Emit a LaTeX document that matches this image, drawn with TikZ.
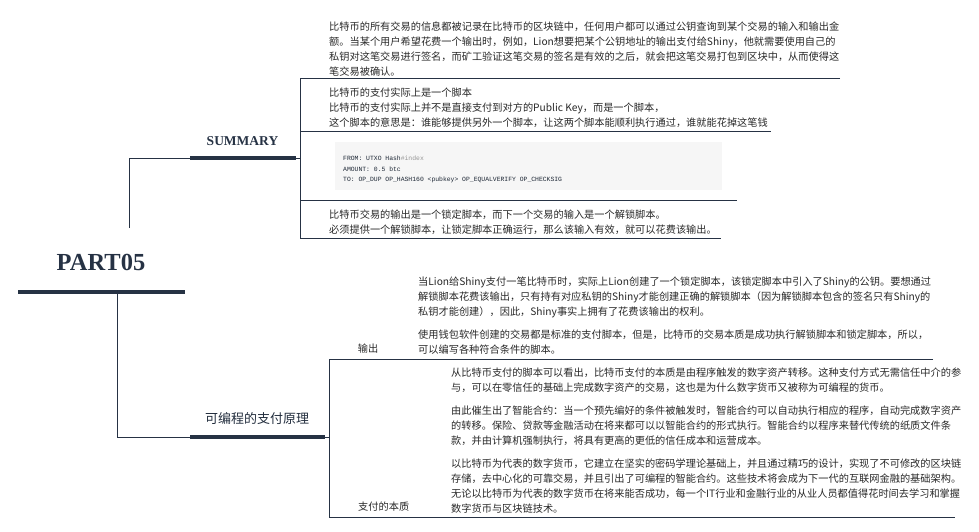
\documentclass[tikz,border=0pt]{standalone}
\usepackage{fontspec}
\newfontfamily\cjk{Noto Sans CJK SC}
\newfontfamily\serif{Liberation Serif}
\newfontfamily\mono{Liberation Mono}
\definecolor{navy}{RGB}{38,50,68}
\definecolor{bodytext}{RGB}{40,40,40}
\definecolor{codebg}{RGB}{246,246,246}
\definecolor{codegrey}{RGB}{150,150,150}
\begin{document}
\begin{tikzpicture}[x=1pt,y=-1pt,
  conn/.style={draw=navy, line width=1pt},
  bar/.style={draw=navy, line width=4.3pt},
  note/.style={inner sep=0, align=left, anchor=base west, text=bodytext, font=\cjk\fontsize{10.2}{15}\selectfont},
  label/.style={inner sep=0, text=bodytext, font=\cjk\fontsize{10.2}{15}\selectfont},
  roottitle/.style={inner sep=0, text=navy, font=\serif\bfseries\fontsize{24.5}{28}\selectfont},
  branchtitle/.style={inner sep=0, text=navy, font=\serif\bfseries\fontsize{13.5}{16}\selectfont},
  cjktitle/.style={inner sep=0, text=navy!90!black, font=\cjk\fontsize{13}{16}\selectfont},
  codetext/.style={inner sep=0, align=left, anchor=base west, text=navy!80!black, font=\mono\fontsize{6.4}{10.5}\selectfont},
  codebox/.style={fill=codebg, inner sep=0, anchor=north west, minimum width=387pt, minimum height=48pt}]
\useasboundingbox (0,0) rectangle (979,532);

% root
\node[roottitle] (root) at (101,262) {PART05};
\coordinate (rootL) at (18,292.3);
\coordinate (rootR) at (185,292.3);
\draw[bar] (rootL) -- (rootR);

% SUMMARY branch
\coordinate (upStart) at (129.3,228);
\coordinate (sumL) at (190,158);
\coordinate (sumR) at (296,158);
\coordinate (sumB) at (300,158);
\draw[conn] (upStart) |- (sumL);
\draw[bar] (sumL) -- (sumR);
\draw[conn] (sumR) -- (sumB);
\node[branchtitle] (summary) at (242.5,141) {SUMMARY};

\coordinate (b1top) at (300,79);
\coordinate (b1bot) at (300,238);
\coordinate (c1end) at (840,79);
\coordinate (c2s) at (300,131);
\coordinate (c2end) at (771,131);
\coordinate (c3s) at (300,200);
\coordinate (c3end) at (737,200);
\coordinate (c4end) at (721,238);
\draw[conn] (c1end) -- (b1top) -- (b1bot) -- (c4end);
\draw[conn] (c2s) -- (c2end);
\draw[conn] (c3s) -- (c3end);

% base anchor = baseline of the last line
\node[note] (c1) at (329,76) {比特币的所有交易的信息都被记录在比特币的区块链中，任何用户都可以通过公钥查询到某个交易的输入和输出金\\
额。当某个用户希望花费一个输出时，例如，Lion想要把某个公钥地址的输出支付给Shiny，他就需要使用自己的\\
私钥对这笔交易进行签名，而矿工验证这笔交易的签名是有效的之后，就会把这笔交易打包到区块中，从而使得这\\
笔交易被确认。};

\node[note] (c2) at (329,126.5) {比特币的支付实际上是一个脚本\\
比特币的支付实际上并不是直接支付到对方的Public Key，而是一个脚本，\\
这个脚本的意思是：谁能够提供另外一个脚本，让这两个脚本能顺利执行通过，谁就能花掉这笔钱};

\node[codebox] (codebg) at (335,142) {};
\node[codetext] (code) at (343,181.5) {FROM: UTXO Hash\textcolor{codegrey}{\#index}\\
AMOUNT: 0.5 btc\\
TO: OP\_DUP OP\_HASH160 <pubkey> OP\_EQUALVERIFY OP\_CHECKSIG};

\node[note] (c4) at (329,233) {比特币交易的输出是一个锁定脚本，而下一个交易的输入是一个解锁脚本。\\
必须提供一个解锁脚本，让锁定脚本正确运行，那么该输入有效，就可以花费该输出。};

% lower branch
\coordinate (downStart) at (117.3,292.3);
\coordinate (progL) at (190,437);
\coordinate (progR) at (325,437);
\coordinate (progB) at (329.5,437);
\draw[conn] (downStart) |- (progL);
\draw[bar] (progL) -- (progR);
\draw[conn] (progR) -- (progB);
\node[cjktitle] (prog) at (257,419) {可编程的支付原理};

\coordinate (b2top) at (329.5,359);
\coordinate (b2bot) at (329.5,517);
\coordinate (d1end) at (933,359);
\coordinate (d2end) at (955,517);
\draw[conn] (d1end) -- (b2top) -- (b2bot) -- (d2end);

\node[label, anchor=center] (out) at (368,349) {输出};
\node[note] (outnote) at (418,353.5) {当Lion给Shiny支付一笔比特币时，实际上Lion创建了一个锁定脚本，该锁定脚本中引入了Shiny的公钥。要想通过\\
解锁脚本花费该输出，只有持有对应私钥的Shiny才能创建正确的解锁脚本（因为解锁脚本包含的签名只有Shiny的\\
私钥才能创建），因此，Shiny事实上拥有了花费该输出的权利。\\[8pt]
使用钱包软件创建的交易都是标准的支付脚本，但是，比特币的交易本质是成功执行解锁脚本和锁定脚本，所以，\\
可以编写各种符合条件的脚本。};

\node[label, anchor=west] (essence) at (358,507) {支付的本质};
\node[note] (essnote) at (451,512) {从比特币支付的脚本可以看出，比特币支付的本质是由程序触发的数字资产转移。这种支付方式无需信任中介的参\\
与，可以在零信任的基础上完成数字资产的交易，这也是为什么数字货币又被称为可编程的货币。\\[8pt]
由此催生出了智能合约：当一个预先编好的条件被触发时，智能合约可以自动执行相应的程序，自动完成数字资产\\
的转移。保险、贷款等金融活动在将来都可以以智能合约的形式执行。智能合约以程序来替代传统的纸质文件条\\
款，并由计算机强制执行，将具有更高的更低的信任成本和运营成本。\\[8pt]
以比特币为代表的数字货币，它建立在坚实的密码学理论基础上，并且通过精巧的设计，实现了不可修改的区块链\\
存储，去中心化的可靠交易，并且引出了可编程的智能合约。这些技术将会成为下一代的互联网金融的基础架构。\\
无论以比特币为代表的数字货币在将来能否成功，每一个IT行业和金融行业的从业人员都值得花时间去学习和掌握\\
数字货币与区块链技术。};
\end{tikzpicture}
\end{document}
